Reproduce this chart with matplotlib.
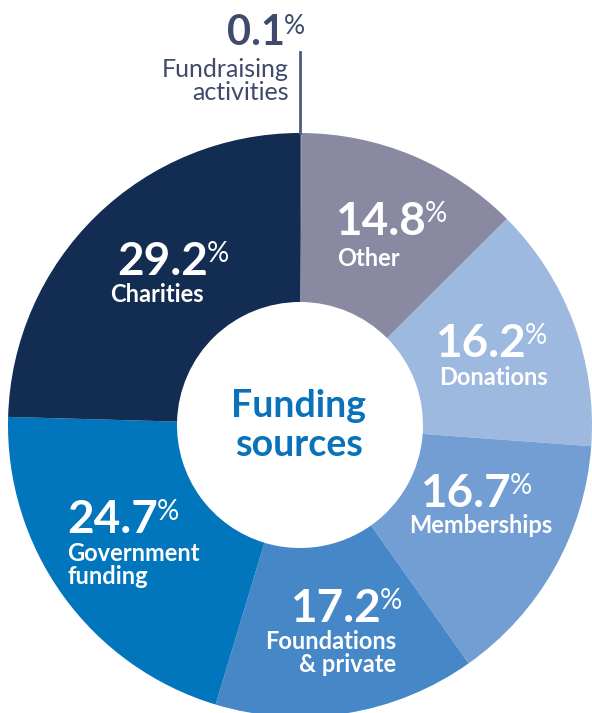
import matplotlib.pyplot as plt

# funding sources (clockwise from the top)
sources = ["Fundraising\nactivities", "Other", "Donations", "Memberships",
           "Foundations\n& private", "Government\nfunding", "Charities"]
shares = [0.1, 14.8, 16.2, 16.7, 17.2, 24.7, 29.2]
colors = ["#4e5a80", "#8a89a2", "#9eb9e0", "#729ed4", "#4587c7", "#0276bd", "#122c52"]

# label layout in pixels from the top-left: number left x, number baseline,
# label x, baseline of the label's last line, label alignment
layout = [
    (227, 45, 289, 100, "right"),
    (335, 235, 337, 266, "left"),
    (435, 357, 439, 385, "left"),
    (420, 507, 481, 533, "center"),
    (290, 622, 396, 672, "right"),
    (67, 533, 67, 584, "left"),
    (117, 275, 157, 302, "center"),
]

plt.rcParams["font.family"] = ["Lato", "DejaVu Sans"]

fig = plt.figure(figsize=(5.92, 7.13), dpi=100)
ax = fig.add_axes([0, 0, 1, 1])


def P(px, py):
    return px - 300, 425 - py


ax.pie(shares, colors=colors, radius=292, startangle=90, counterclock=False,
       wedgeprops=dict(width=169, linewidth=0))
ax.set_xlim(-300, 292)
ax.set_ylim(-288, 425)
ax.set_aspect("equal")
ax.axis("off")

for i, (name, val) in enumerate(zip(sources, shares)):
    nx, ny, lx, ly, ha = layout[i]
    if i == 0:
        col, nsize, psize, lsize, lw = "#3f4a6c", 30, 19, 18, "normal"
    else:
        col, nsize, psize, lsize, lw = "white", 33, 20, 17, "bold"
    num = ax.text(*P(nx, ny), f"{val:.1f}", color=col, fontsize=nsize,
                  fontweight="bold", ha="left", va="baseline")
    ax.annotate("%", xy=(1, 1), xycoords=num, xytext=(-0.5, 0),
                textcoords="offset points", color=col, fontsize=psize,
                ha="left", va="top")
    ax.text(*P(lx, ly), name, color=col, fontsize=lsize, fontweight=lw,
            ha=ha, va="baseline", multialignment=ha, linespacing=1.0)

# leader line for the tiny slice
ax.plot(*zip(P(300, 52), P(300, 133)), color="#4e5a80", lw=2)

ax.text(*P(299, 417), "Funding", color="#0a72b8", fontsize=27,
        fontweight="bold", ha="center", va="baseline")
ax.text(*P(299, 456), "sources", color="#0a72b8", fontsize=27,
        fontweight="bold", ha="center", va="baseline")

fig.savefig("out.png", dpi=100)
